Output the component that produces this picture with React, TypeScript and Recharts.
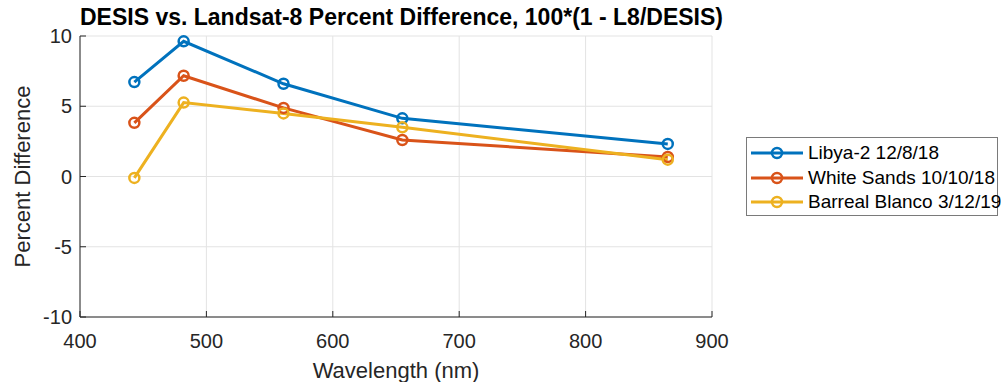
import React from 'react';
import { LineChart, Line, XAxis, YAxis, CartesianGrid } from 'recharts';

const wavelengths = [443, 482, 561, 655, 865];
const libya = [6.72, 9.62, 6.6, 4.14, 2.32];
const whiteSands = [3.82, 7.17, 4.88, 2.6, 1.39];
const barreal = [-0.1, 5.26, 4.49, 3.5, 1.2];

const xTicks = [400, 500, 600, 700, 800, 900];
const yTicks = [-10, -5, 0, 5, 10];

const SERIES = [
    { key: 'libya', name: 'Libya-2 12/8/18', color: '#0072BD' },
    { key: 'whiteSands', name: 'White Sands 10/10/18', color: '#D95319' },
    { key: 'barreal', name: 'Barreal Blanco 3/12/19', color: '#EDB120' },
];

const data = wavelengths.map((w, i) => ({
    wl: w,
    libya: libya[i],
    whiteSands: whiteSands[i],
    barreal: barreal[i],
}));

const FONT = '"Liberation Sans", Arial, Helvetica, sans-serif';
const AXIS = '#262626';

const LegendBox = () => (
    <div
        style={{
            position: 'absolute',
            left: 746,
            top: 137,
            width: 252,
            height: 79,
            boxSizing: 'border-box',
            border: '1px solid #7a7a7a',
            background: '#fff',
            paddingTop: 3,
            fontFamily: FONT,
            fontSize: 19,
            color: '#000',
        }}
    >
        {SERIES.map((s) => (
            <div key={s.key} style={{ display: 'flex', alignItems: 'center', height: 24.5 }}>
                <svg width={61} height={20} style={{ flex: 'none' }}>
                    <line x1={4} y1={10} x2={56} y2={10} stroke={s.color} strokeWidth={3} />
                    <circle cx={30} cy={10} r={5} fill="none" stroke={s.color} strokeWidth={2.5} />
                </svg>
                <span style={{ whiteSpace: 'nowrap' }}>{s.name}</span>
            </div>
        ))}
    </div>
);

const App: React.FC = () => {
    return (
        <div style={{ position: 'absolute', left: 0, top: 0, width: 1001, height: 382, background: '#fff' }}>
            <div
                style={{
                    position: 'absolute',
                    left: 80,
                    width: 632,
                    top: 3,
                    textAlign: 'center',
                    fontFamily: FONT,
                    fontWeight: 'bold',
                    fontSize: 23,
                    lineHeight: '28px',
                    color: '#000',
                    whiteSpace: 'nowrap',
                }}
            >
                DESIS vs. Landsat-8 Percent Difference, 100*(1 - L8/DESIS)
            </div>
            <LineChart
                width={1001}
                height={382}
                data={data}
                margin={{ top: 36, right: 289, bottom: 0, left: 0 }}
                style={{ fontFamily: FONT, position: 'absolute', left: 0, top: 0 }}
            >
                <CartesianGrid stroke="#e3e3e3" strokeWidth={1} />
                <XAxis
                    dataKey="wl"
                    type="number"
                    domain={[400, 900]}
                    ticks={xTicks}
                    height={65}
                    stroke={AXIS}
                    tickSize={-6}
                    tickMargin={23}
                    tick={{ fill: AXIS, fontSize: 20 }}
                    label={{ value: 'Wavelength (nm)', position: 'insideBottom', offset: 4, fill: AXIS, fontSize: 22 }}
                />
                <XAxis
                    xAxisId="top"
                    dataKey="wl"
                    type="number"
                    orientation="top"
                    domain={[400, 900]}
                    ticks={xTicks}
                    height={0}
                    stroke={AXIS}
                    tickSize={-6}
                    tickFormatter={() => ''}
                />
                <YAxis
                    type="number"
                    domain={[-10, 10]}
                    ticks={yTicks}
                    width={80}
                    stroke={AXIS}
                    tickSize={-6}
                    tickMargin={14}
                    tick={{ fill: AXIS, fontSize: 20 }}
                    label={{ value: 'Percent Difference', angle: -90, position: 'insideLeft', offset: 22, style: { textAnchor: 'middle' }, fill: AXIS, fontSize: 22 }}
                />
                <YAxis
                    yAxisId="right"
                    orientation="right"
                    type="number"
                    domain={[-10, 10]}
                    ticks={yTicks}
                    width={0}
                    stroke={AXIS}
                    tickSize={-6}
                    tickFormatter={() => ''}
                />
                {SERIES.map((s) => (
                    <Line
                        key={s.key}
                        dataKey={s.key}
                        name={s.name}
                        stroke={s.color}
                        strokeWidth={3}
                        dot={{ r: 5, fill: 'none', stroke: s.color, strokeWidth: 2.5 }}
                        activeDot={false}
                        isAnimationActive={false}
                    />
                ))}
            </LineChart>
            <LegendBox />
        </div>
    );
};

export default App;
